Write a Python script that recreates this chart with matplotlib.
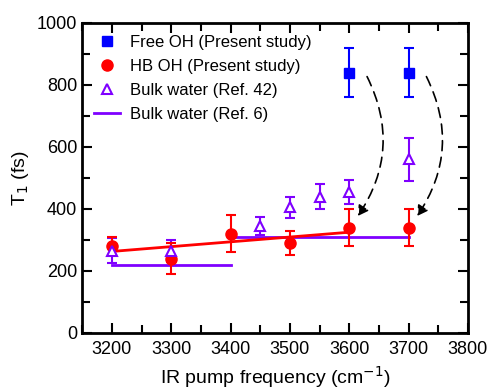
import numpy as np
import matplotlib.pyplot as plt
from matplotlib.patches import FancyArrowPatch
from matplotlib.ticker import MultipleLocator

plt.rcParams['font.family'] = ['Liberation Sans', 'DejaVu Sans']

# Free OH (present study)
free_x = [3600, 3700]
free_y = [840, 840]
free_err = [80, 80]

# HB OH (present study)
hb_x = [3200, 3300, 3400, 3500, 3600, 3700]
hb_y = [280, 240, 320, 290, 340, 340]
hb_err = [30, 50, 60, 40, 60, 60]

# Bulk water (Ref. 42)
bulk_x = [3200, 3300, 3450, 3500, 3550, 3600, 3700]
bulk_y = [265, 265, 345, 405, 440, 455, 560]
bulk_err = [40, 35, 30, 35, 40, 40, 70]

# Bulk water (Ref. 6) segments
ref6_x1, ref6_y1 = [3200, 3400], [220, 220]
ref6_x2, ref6_y2 = [3400, 3700], [310, 310]

# linear trend of HB OH
fit_x = [3200, 3600]
fit_y = [263, 325]

blue = '#0000ff'
red = '#ff0000'
purple = '#7f00ff'

fig = plt.figure(figsize=(4.92, 3.89), dpi=100)
ax = fig.add_axes([0.167, 0.144, 0.784, 0.797])

ax.plot(ref6_x1, ref6_y1, color=purple, lw=2)
ax.plot(ref6_x2, ref6_y2, color=purple, lw=2)
ax.plot(fit_x, fit_y, color=red, lw=2)

eb = dict(capsize=3.5, elinewidth=1.5, capthick=1.5, ls='none')
ax.errorbar(bulk_x, bulk_y, yerr=bulk_err, color=purple, **eb)
ax.errorbar(hb_x, hb_y, yerr=hb_err, color=red, **eb)
ax.errorbar(free_x, free_y, yerr=free_err, color=blue, **eb)

l1, = ax.plot(free_x, free_y, 's', color=blue, ms=6.5, label='Free OH (Present study)')
l2, = ax.plot(hb_x, hb_y, 'o', color=red, ms=8, label='HB OH (Present study)')
l3, = ax.plot(bulk_x, bulk_y, '^', mfc='white', mec=purple, mew=1.5, ms=7,
              label='Bulk water (Ref. 42)')
l4, = ax.plot([], [], color=purple, lw=2, label='Bulk water (Ref. 6)')

for i in range(len(free_x)):
    arr = FancyArrowPatch((free_x[i] + 28, free_y[i] - 5), (free_x[i] + 12, hb_y[4 + i] + 30),
                          connectionstyle='arc3,rad=-0.3', arrowstyle='-|>,head_length=6,head_width=3.5',
                          color='black', lw=1.2, linestyle=(0, (6, 4)))
    ax.add_patch(arr)

ax.set_xlim(3150, 3800)
ax.set_ylim(0, 1000)
ax.xaxis.set_major_locator(MultipleLocator(100))
ax.xaxis.set_minor_locator(MultipleLocator(50))
ax.yaxis.set_major_locator(MultipleLocator(200))
ax.yaxis.set_minor_locator(MultipleLocator(100))
ax.tick_params(which='both', direction='in', top=True, right=True, width=1.5, labelsize=13)
ax.tick_params(which='major', length=7)
ax.tick_params(which='minor', length=6)
ax.tick_params(axis='x', which='major', pad=6)
for s in ax.spines.values():
    s.set_linewidth(2)

ax.set_xlabel('IR pump frequency (cm$^{-1}$)', fontsize=14)
ax.set_ylabel('T$_1$ (fs)', fontsize=14)

ax.legend(handles=[l1, l2, l3, l4], loc='upper left', frameon=False, fontsize=12,
          handlelength=1.6, handletextpad=0.6, borderaxespad=0.3, labelspacing=0.55)

fig.savefig('out.png', dpi=100)
